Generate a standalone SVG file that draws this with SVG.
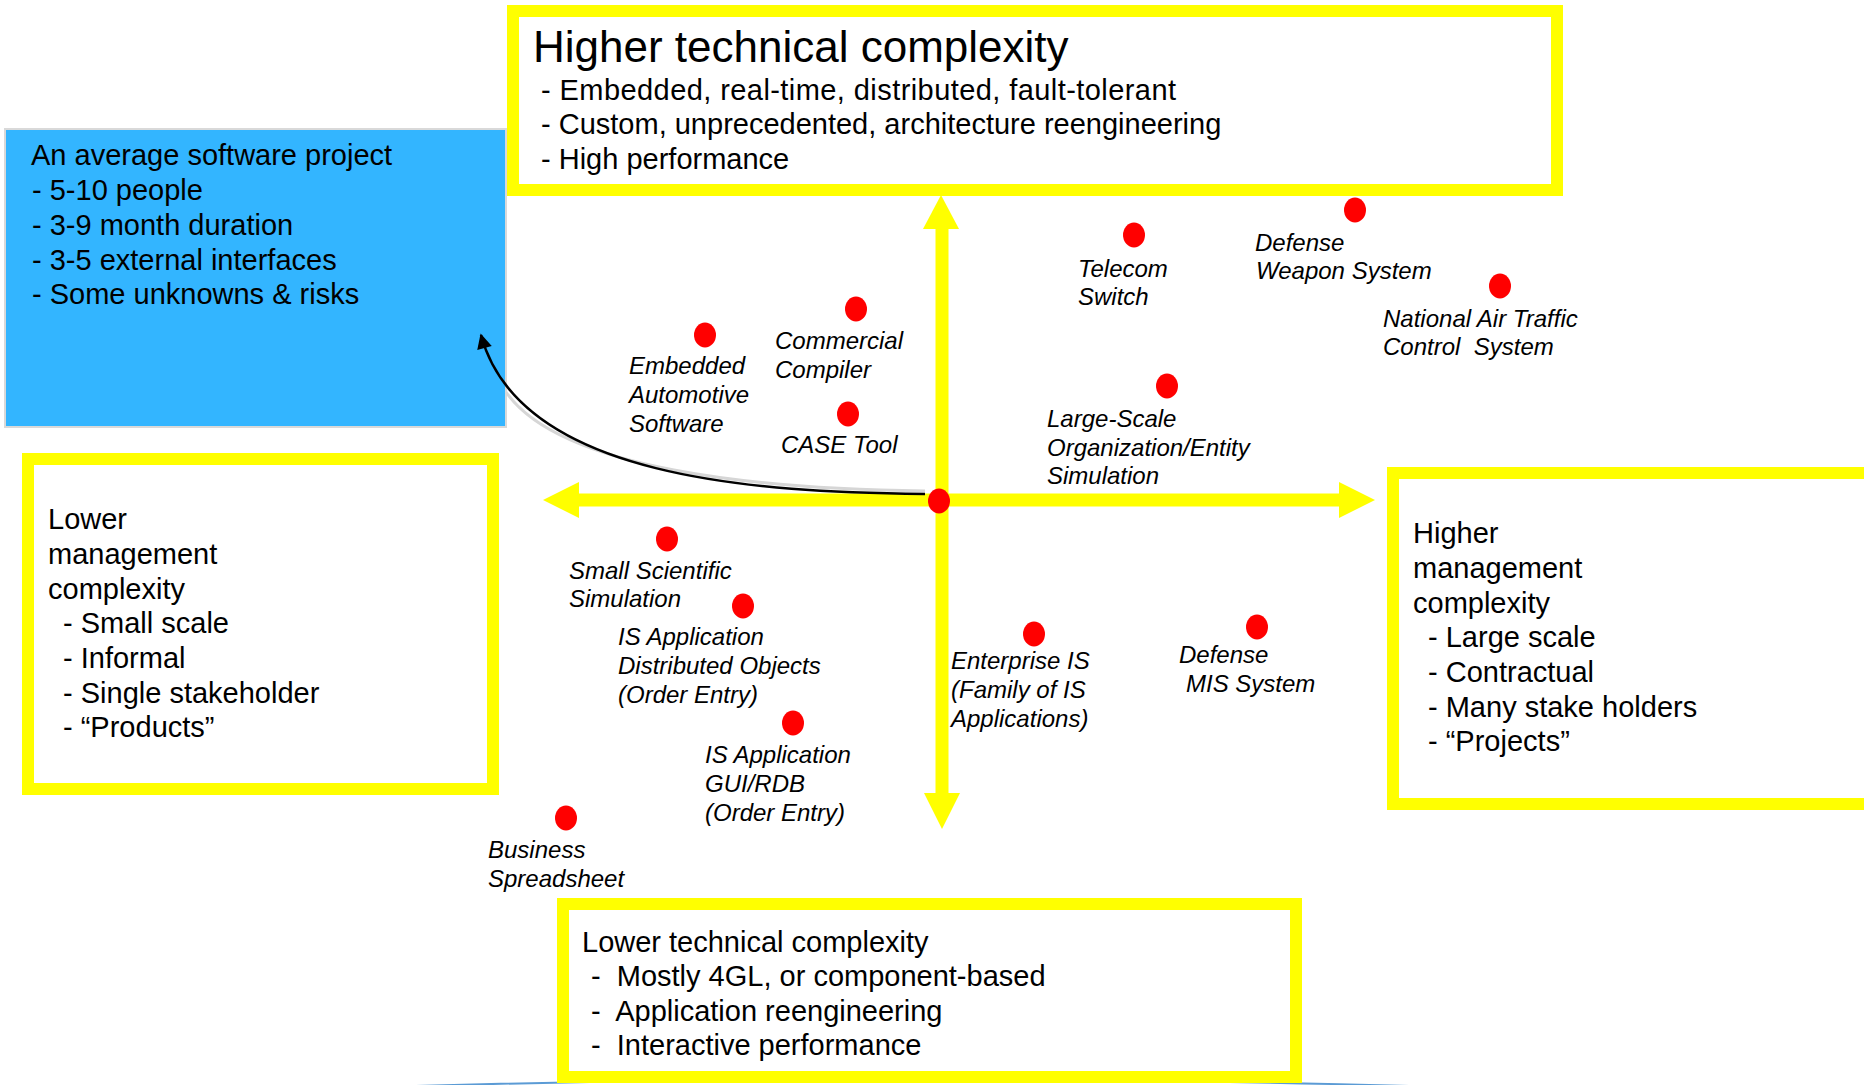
<svg xmlns="http://www.w3.org/2000/svg" width="1864" height="1085" viewBox="0 0 1864 1085" xml:space="preserve">
<style>
.ybox{fill:#ffffff;stroke:#ffff00;stroke-width:12}
text{white-space:pre}
.body{font-family:"Liberation Sans",Arial,sans-serif;font-size:29px;fill:#000}
.title{font-family:"Liberation Sans",Arial,sans-serif;font-size:44px;fill:#000}
.lbl{font-family:"Liberation Sans",Arial,sans-serif;font-size:24px;font-style:italic;fill:#000}
.dot{fill:#ff0000}
.axis{stroke:#ffff00;stroke-width:13;fill:none}
.head{fill:#ffff00}
</style>
<defs>
<marker id="blk" viewBox="0 0 10 10" refX="9" refY="5" markerWidth="6.5" markerHeight="6" markerUnits="strokeWidth" orient="auto">
<path d="M0,0 L10,5 L0,10 z" fill="#000"/>
</marker>
</defs>
<rect width="1864" height="1085" fill="#fff"/>
<path d="M 416 1086 Q 912 1072 1409 1086" fill="none" stroke="#5b9bd5" stroke-width="2"/>

<g id="top-box">
<rect class="ybox" x="513" y="11" width="1044" height="179"/>
<text class="title" x="533" y="62">Higher technical complexity</text>
<text class="body" x="541" y="100" textLength="635" lengthAdjust="spacing">- Embedded, real-time, distributed, fault-tolerant</text>
<text class="body" x="541" y="134">- Custom, unprecedented, architecture reengineering</text>
<text class="body" x="541" y="169">- High performance</text>
</g>

<g id="average-box">
<rect x="5" y="129" width="501" height="298" fill="#33b5ff" stroke="#d9d9d9" stroke-width="2"/>
<text class="body" x="31" y="165">An average software project</text>
<text class="body" x="32" y="200">- 5-10 people</text>
<text class="body" x="32" y="235">- 3-9 month duration</text>
<text class="body" x="32" y="270">- 3-5 external interfaces</text>
<text class="body" x="32" y="304">- Some unknowns &amp; risks</text>
</g>

<g id="left-box">
<rect class="ybox" x="28" y="459" width="465" height="330"/>
<text class="body" x="48" y="529">Lower</text>
<text class="body" x="48" y="564">management</text>
<text class="body" x="48" y="599">complexity</text>
<text class="body" x="63" y="633">- Small scale</text>
<text class="body" x="63" y="668">- Informal</text>
<text class="body" x="63" y="703">- Single stakeholder</text>
<text class="body" x="63" y="737">- “Products”</text>
</g>

<g id="right-box">
<rect class="ybox" x="1393" y="473" width="520" height="331"/>
<text class="body" x="1413" y="543">Higher</text>
<text class="body" x="1413" y="578">management</text>
<text class="body" x="1413" y="613">complexity</text>
<text class="body" x="1428" y="647">- Large scale</text>
<text class="body" x="1428" y="682">- Contractual</text>
<text class="body" x="1428" y="717">- Many stake holders</text>
<text class="body" x="1428" y="751">- “Projects”</text>
</g>

<g id="bottom-box">
<rect class="ybox" x="563" y="904" width="733" height="173"/>
<text class="body" x="582" y="952">Lower technical complexity</text>
<text class="body" x="591" y="986">-  Mostly 4GL, or component-based</text>
<text class="body" x="591" y="1021">-  Application reengineering</text>
<text class="body" x="591" y="1055">-  Interactive performance</text>
</g>

<g id="connectors">
<line class="axis" x1="579" y1="500" x2="1339" y2="500"/>
<line class="axis" x1="942" y1="229" x2="942" y2="793"/>
<polygon class="head" points="543,500 579,482 579,518"/>
<polygon class="head" points="1375,500 1339,482 1339,518"/>
<polygon class="head" points="941,195 923,229 959,229"/>
<polygon class="head" points="942,829 924,793 960,793"/>
<path d="M 925 491 C 760 489, 560 470, 506 392" fill="none" stroke="#d6d6d6" stroke-width="3"/>
<path d="M 925 494 C 760 492, 520 480, 481 335" fill="none" stroke="#000" stroke-width="2.5" marker-end="url(#blk)"/>
</g>

<g id="center"><ellipse class="dot" cx="939" cy="501" rx="11" ry="12.5"/></g>

<g id="telecom"><ellipse class="dot" cx="1134" cy="235" rx="11" ry="12.5"/>
<text class="lbl" x="1078" y="277">Telecom</text><text class="lbl" x="1078" y="305">Switch</text></g>

<g id="defense-weapon"><ellipse class="dot" cx="1355" cy="210" rx="11" ry="12.5"/>
<text class="lbl" x="1255" y="251">Defense</text><text class="lbl" x="1256" y="279">Weapon System</text></g>

<g id="air-traffic"><ellipse class="dot" cx="1500" cy="286" rx="11" ry="12.5"/>
<text class="lbl" x="1383" y="327">National Air Traffic</text><text class="lbl" x="1383" y="355">Control  System</text></g>

<g id="commercial-compiler"><ellipse class="dot" cx="856" cy="309" rx="11" ry="12.5"/>
<text class="lbl" x="775" y="349">Commercial</text><text class="lbl" x="775" y="378">Compiler</text></g>

<g id="embedded-automotive"><ellipse class="dot" cx="705" cy="335" rx="11" ry="12.5"/>
<text class="lbl" x="629" y="374">Embedded</text><text class="lbl" x="629" y="403">Automotive</text><text class="lbl" x="629" y="432">Software</text></g>

<g id="case-tool"><ellipse class="dot" cx="848" cy="414" rx="11" ry="12.5"/>
<text class="lbl" x="781" y="453">CASE Tool</text></g>

<g id="large-scale"><ellipse class="dot" cx="1167" cy="386" rx="11" ry="12.5"/>
<text class="lbl" x="1047" y="427">Large-Scale</text><text class="lbl" x="1047" y="456">Organization/Entity</text><text class="lbl" x="1047" y="484">Simulation</text></g>

<g id="small-scientific"><ellipse class="dot" cx="667" cy="539" rx="11" ry="12.5"/>
<text class="lbl" x="569" y="579">Small Scientific</text><text class="lbl" x="569" y="607">Simulation</text></g>

<g id="is-distributed"><ellipse class="dot" cx="743" cy="606" rx="11" ry="12.5"/>
<text class="lbl" x="618" y="645">IS Application</text><text class="lbl" x="618" y="674">Distributed Objects</text><text class="lbl" x="618" y="703">(Order Entry)</text></g>

<g id="is-gui"><ellipse class="dot" cx="793" cy="723" rx="11" ry="12.5"/>
<text class="lbl" x="705" y="763">IS Application</text><text class="lbl" x="705" y="792">GUI/RDB</text><text class="lbl" x="705" y="821">(Order Entry)</text></g>

<g id="business-spreadsheet"><ellipse class="dot" cx="566" cy="818" rx="11" ry="12.5"/>
<text class="lbl" x="488" y="858">Business</text><text class="lbl" x="488" y="887">Spreadsheet</text></g>

<g id="enterprise-is"><ellipse class="dot" cx="1034" cy="634" rx="11" ry="12.5"/>
<text class="lbl" x="951" y="669">Enterprise IS</text><text class="lbl" x="951" y="698">(Family of IS</text><text class="lbl" x="951" y="727">Applications)</text></g>

<g id="defense-mis"><ellipse class="dot" cx="1257" cy="627" rx="11" ry="12.5"/>
<text class="lbl" x="1179" y="663">Defense</text><text class="lbl" x="1186" y="692">MIS System</text></g>
</svg>
